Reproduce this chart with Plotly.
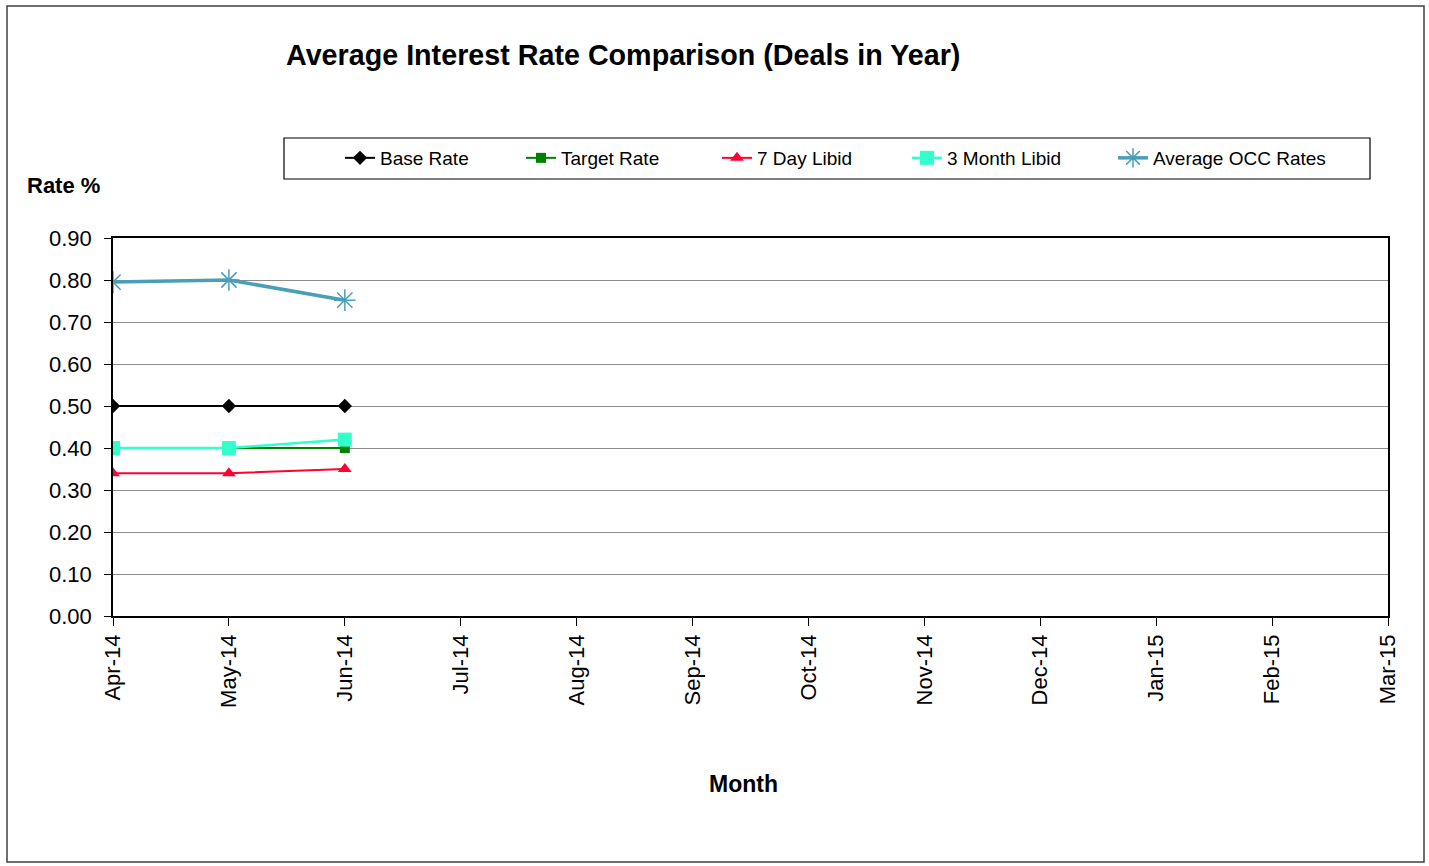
import plotly.graph_objects as go

months = ["Apr-14", "May-14", "Jun-14", "Jul-14", "Aug-14", "Sep-14",
          "Oct-14", "Nov-14", "Dec-14", "Jan-15", "Feb-15", "Mar-15"]
base_rate = [0.50, 0.50, 0.50]
target_rate = [0.40, 0.40, 0.40]
libid_7day = [0.34, 0.34, 0.35]
libid_3month = [0.40, 0.40, 0.42]
avg_occ = [0.795, 0.80, 0.752]
y_ticks = [0.0, 0.1, 0.2, 0.3, 0.4, 0.5, 0.6, 0.7, 0.8, 0.9]

FONT = "Liberation Sans, Arial, sans-serif"

L, R, T, B = 113, 41, 238, 250
W, H = 1429, 866
pw, ph = W - L - R, H - T - B

def px(x):
    return (x - L) / pw

def py(y):
    return (H - B - y) / ph

# name, values, colour, marker symbol, marker size, line width, legend text x
series = [
    ("Base Rate", base_rate, "#000000", "diamond", 11, 2, 380),
    ("Target Rate", target_rate, "#008000", "square", 10, 2, 561),
    ("7 Day Libid", libid_7day, "#FF0033", "triangle-up", 12, 2, 757),
    ("3 Month Libid", libid_3month, "#33FFCC", "square", 14, 2.5, 947),
]

fig = go.Figure()
legends = {}
for i, (name, vals, col, sym, size, lw, lx) in enumerate(series):
    key = "legend" if i == 0 else f"legend{i + 1}"
    fig.add_trace(go.Scatter(
        x=months[:len(vals)], y=vals, name=name, mode="lines+markers",
        line=dict(color=col, width=lw),
        marker=dict(symbol=sym, size=size, color=col),
        legend=key,
    ))
    legends[key] = lx

fig.add_trace(go.Scatter(
    x=months[:len(avg_occ)], y=avg_occ, name="Average OCC Rates",
    mode="lines+markers",
    line=dict(color="#4A9FB8", width=3.5),
    marker=dict(symbol="asterisk-open", size=18,
                line=dict(color="#4A9FB8", width=1.5)),
    legend="legend5",
))
legends["legend5"] = 1153

legend_layout = {}
for key, lx in legends.items():
    legend_layout[key] = dict(
        orientation="h", x=px(lx - 40), y=py(158), xanchor="left",
        yanchor="middle", font=dict(size=19, family=FONT),
        bgcolor="rgba(0,0,0,0)", borderwidth=0,
    )

fig.update_layout(
    width=W, height=H,
    margin=dict(l=L, r=R, t=T, b=B),
    paper_bgcolor="white", plot_bgcolor="white",
    font=dict(family=FONT, size=22, color="#000000"),
    showlegend=True,
    xaxis=dict(
        type="category", categoryorder="array", categoryarray=months,
        range=[0, len(months) - 1], tickangle=-90,
        showgrid=False, showline=True, linecolor="#000000", linewidth=1.5,
        mirror=True, ticks="outside", ticklen=8, tickcolor="#000000",
        tickfont=dict(size=22, family=FONT), zeroline=False,
    ),
    yaxis=dict(
        range=[0, 0.9], tickvals=y_ticks, tickformat=".2f",
        showgrid=True, gridcolor="#8C8C8C", gridwidth=1,
        showline=True, linecolor="#000000", linewidth=1.5, mirror=True,
        ticks="outside", ticklen=7, tickcolor="#000000",
        ticklabelstandoff=8,
        tickfont=dict(size=22, family=FONT), zeroline=False,
    ),
    **legend_layout,
)

# chart frame and legend box
fig.add_shape(type="rect", xref="paper", yref="paper",
              x0=px(7), x1=px(1424), y0=py(862), y1=py(6),
              line=dict(color="#404040", width=1.5), layer="below")
fig.add_shape(type="rect", xref="paper", yref="paper",
              x0=px(284), x1=px(1370), y0=py(179), y1=py(138),
              line=dict(color="#000000", width=1.2))

fig.add_annotation(text="<b>Average Interest Rate Comparison (Deals in Year)</b>",
                   xref="paper", yref="paper", x=px(284), y=py(55),
                   xanchor="left", yanchor="middle", showarrow=False,
                   font=dict(size=28.7, family=FONT))
fig.add_annotation(text="<b>Rate %</b>", xref="paper", yref="paper",
                   x=px(25), y=py(186), xanchor="left", yanchor="middle",
                   showarrow=False, font=dict(size=22, family=FONT))
fig.add_annotation(text="<b>Month</b>", xref="paper", yref="paper",
                   x=px(743), y=py(784), xanchor="center", yanchor="middle",
                   showarrow=False, font=dict(size=23, family=FONT))

fig.write_html("out.html")
